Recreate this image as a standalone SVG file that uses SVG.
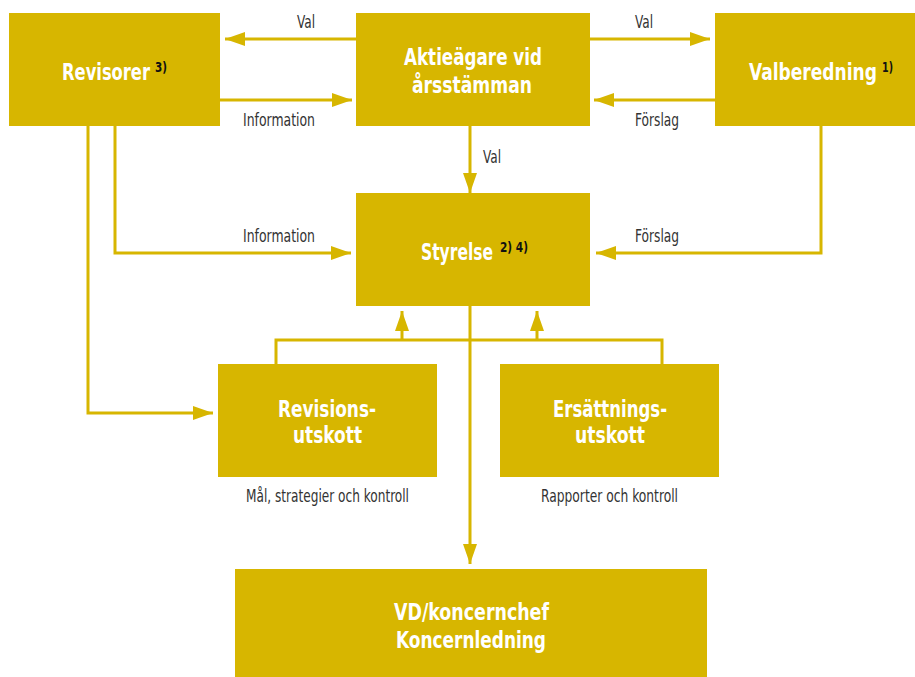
<svg xmlns="http://www.w3.org/2000/svg" width="915" height="677" viewBox="0 0 915 677">
<defs>
<marker id="ah" viewBox="0 0 20 14" markerWidth="20" markerHeight="14" refX="20" refY="7" orient="auto" markerUnits="userSpaceOnUse">
<path d="M0,0 L20,7 L0,14 z" fill="#D7B600"/>
</marker>
<style>
.box{fill:#D7B600}
.t{font-family:'DejaVu Sans Condensed','Liberation Sans',sans-serif;font-stretch:condensed;font-weight:bold;font-size:23px;fill:#fff}
.sup{font-family:'DejaVu Sans Condensed','Liberation Sans',sans-serif;font-stretch:condensed;font-weight:bold;font-size:14px;fill:#111}
.l{font-family:'DejaVu Sans Condensed','Liberation Sans',sans-serif;font-stretch:condensed;font-size:17px;fill:#333}
.c{fill:none;stroke:#D7B600;stroke-width:3}
.a{marker-end:url(#ah)}
</style>
</defs>
<rect width="915" height="677" fill="#fff"/>
<g id="connectors">
<line class="c a" x1="356" y1="39" x2="225" y2="39"/>
<line class="c a" x1="220" y1="100" x2="352" y2="100"/>
<line class="c a" x1="590" y1="39" x2="710" y2="39"/>
<line class="c a" x1="715" y1="100" x2="594" y2="100"/>
<line class="c a" x1="470" y1="126" x2="470" y2="193"/>
<polyline class="c a" points="115,126 115,253 351,253"/>
<polyline class="c a" points="88,126 88,413 213,413"/>
<polyline class="c a" points="821,126 821,253 596,253"/>
<polyline class="c" points="276,364 276,340 662,340 662,364"/>
<line class="c a" x1="402" y1="340" x2="402" y2="311"/>
<line class="c a" x1="537" y1="340" x2="537" y2="311"/>
<line class="c a" x1="470" y1="306" x2="470" y2="564"/>
<text class="l" x="297" y="28" textLength="18" lengthAdjust="spacingAndGlyphs">Val</text>
<text class="l" x="243" y="126" textLength="72" lengthAdjust="spacingAndGlyphs">Information</text>
<text class="l" x="635" y="28" textLength="18" lengthAdjust="spacingAndGlyphs">Val</text>
<text class="l" x="635" y="126" textLength="44" lengthAdjust="spacingAndGlyphs">Förslag</text>
<text class="l" x="483" y="163" textLength="18" lengthAdjust="spacingAndGlyphs">Val</text>
<text class="l" x="243" y="242" textLength="72" lengthAdjust="spacingAndGlyphs">Information</text>
<text class="l" x="635" y="242" textLength="44" lengthAdjust="spacingAndGlyphs">Förslag</text>
</g>
<g id="revisorer">
<rect class="box" x="9" y="13" width="211" height="113"/>
<text class="t" transform="translate(62,80) scale(0.8,1)" x="0" y="0" textLength="110" lengthAdjust="spacingAndGlyphs">Revisorer</text>
<text class="sup" x="155" y="72" textLength="12" lengthAdjust="spacingAndGlyphs">3)</text>
</g>
<g id="aktieagare">
<rect class="box" x="356" y="13" width="234" height="113"/>
<text class="t" x="404" y="65" textLength="138" lengthAdjust="spacingAndGlyphs">Aktieägare vid</text>
<text class="t" x="412" y="93" textLength="120" lengthAdjust="spacingAndGlyphs">årsstämman</text>
</g>
<g id="valberedning">
<rect class="box" x="715" y="13" width="200" height="113"/>
<text class="t" transform="translate(749,80) scale(0.78,1)" x="0" y="0" textLength="164.1" lengthAdjust="spacingAndGlyphs">Valberedning</text>
<text class="sup" x="882" y="72" textLength="11" lengthAdjust="spacingAndGlyphs">1)</text>
</g>
<g id="styrelse">
<rect class="box" x="356" y="193" width="234" height="113"/>
<text class="t" transform="translate(421,260) scale(0.72,1)" x="0" y="0" textLength="100" lengthAdjust="spacingAndGlyphs">Styrelse</text>
<text class="sup" x="500" y="252" textLength="28" lengthAdjust="spacingAndGlyphs">2) 4)</text>
</g>
<g id="revisionsutskott">
<rect class="box" x="218" y="364" width="219" height="113"/>
<text class="t" x="278" y="417" textLength="98" lengthAdjust="spacingAndGlyphs">Revisions-</text>
<text class="t" x="293" y="443" textLength="69" lengthAdjust="spacingAndGlyphs">utskott</text>
<text class="l" x="246" y="502" textLength="163" lengthAdjust="spacingAndGlyphs">Mål, strategier och kontroll</text>
</g>
<g id="ersattningsutskott">
<rect class="box" x="500" y="364" width="219" height="113"/>
<text class="t" x="553" y="417" textLength="114" lengthAdjust="spacingAndGlyphs">Ersättnings-</text>
<text class="t" x="575" y="443" textLength="70" lengthAdjust="spacingAndGlyphs">utskott</text>
<text class="l" x="541" y="502" textLength="137" lengthAdjust="spacingAndGlyphs">Rapporter och kontroll</text>
</g>
<g id="vd">
<rect class="box" x="235" y="569" width="472" height="108"/>
<text class="t" x="394" y="620" textLength="155" lengthAdjust="spacingAndGlyphs">VD/koncernchef</text>
<text class="t" x="396" y="648" textLength="150" lengthAdjust="spacingAndGlyphs">Koncernledning</text>
</g>
</svg>
